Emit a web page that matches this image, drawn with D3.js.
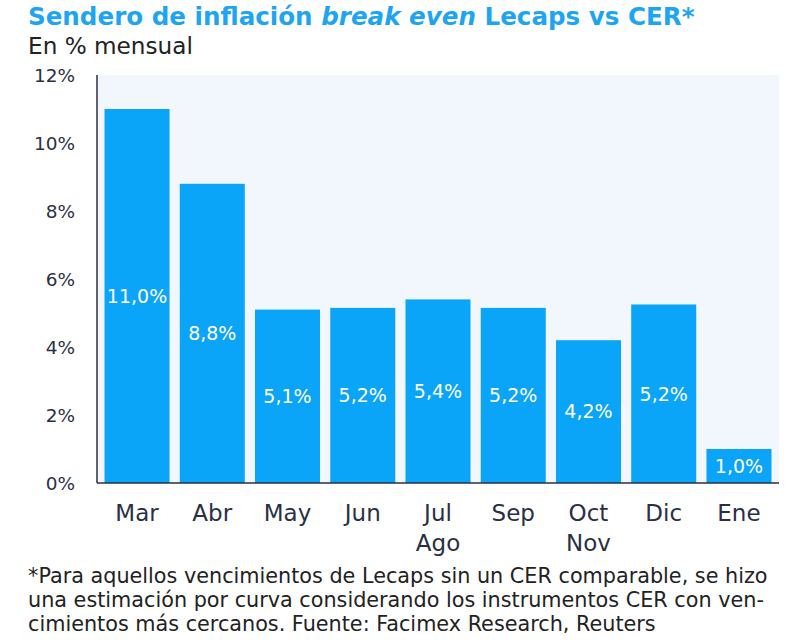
<!DOCTYPE html>
<html>
<head>
<meta charset="utf-8">
<script src="https://cdn.jsdelivr.net/npm/d3@7"></script>
<style>
  body { margin: 0; background: #fff; }
  svg { font-family: "DejaVu Sans", "Noto Sans", sans-serif; }
</style>
</head>
<body>
<svg id="chart"></svg>
<script>
// datos
const categories = ["Mar", "Abr", "May", "Jun", "Jul", "Sep", "Oct", "Dic", "Ene"];
const subLabels = ["", "", "", "", "Ago", "", "Nov", "", ""];
const values = [11.0, 8.8, 5.1, 5.15, 5.4, 5.15, 4.2, 5.25, 1.0];
const valueLabels = ["11,0%", "8,8%", "5,1%", "5,2%", "5,4%", "5,2%", "4,2%", "5,2%", "1,0%"];
const yTicks = [0, 2, 4, 6, 8, 10, 12];
const footnote = [
    "*Para aquellos vencimientos de Lecaps sin un CER comparable, se hizo",
    "una estimación por curva considerando los instrumentos CER con ven-",
    "cimientos más cercanos. Fuente: Facimex Research, Reuters"
];

const width = 800, height = 643;
const left = 28;
const blue = "#0aa4f8";
const dark = "#2b2f45";

const svg = d3.select("#chart").attr("width", width).attr("height", height);

// ajusta el tamaño de letra para que el texto mida lo mismo que en el original
function fitWidth(sel, target) {
    const w = sel.node().getComputedTextLength();
    const fs = parseFloat(sel.attr("font-size"));
    sel.attr("font-size", fs * target / w);
}

const x = d3.scaleBand()
    .domain(categories)
    .range([97, 779])
    .paddingInner(0.136)
    .paddingOuter(0.1);

const y = d3.scaleLinear().domain([0, 12]).range([483, 75]);

// título
const title = svg.append("text")
    .attr("x", left).attr("y", 25)
    .attr("fill", "#1ea5f2")
    .attr("font-size", 22)
    .attr("font-weight", 700);
title.append("tspan").text("Sendero de inflación ");
title.append("tspan").attr("font-style", "italic").text("break even");
title.append("tspan").text(" Lecaps vs CER*");
fitWidth(title, 667);

const sub = svg.append("text")
    .attr("x", left).attr("y", 54)
    .attr("fill", "#222")
    .attr("font-size", 20)
    .text("En % mensual");
fitWidth(sub, 165);

// fondo del área
svg.append("rect")
    .attr("x", x.range()[0]).attr("y", y(12))
    .attr("width", x.range()[1] - x.range()[0])
    .attr("height", y(0) - y(12))
    .attr("fill", "#f1f7fd");

// eje y (solo etiquetas)
svg.append("g")
    .selectAll("text")
    .data(yTicks)
    .enter().append("text")
    .attr("x", 75)
    .attr("y", d => y(d))
    .attr("dy", "0.36em")
    .attr("text-anchor", "end")
    .attr("fill", dark)
    .attr("font-size", 18.5)
    .text(d => d + "%");

// barras
svg.append("g")
    .selectAll("rect")
    .data(values)
    .enter().append("rect")
    .attr("x", (d, i) => x(categories[i]))
    .attr("y", d => y(d))
    .attr("width", x.bandwidth())
    .attr("height", d => y(0) - y(d))
    .attr("fill", blue);

// etiquetas de valor
svg.append("g")
    .selectAll("text")
    .data(values)
    .enter().append("text")
    .attr("x", (d, i) => x(categories[i]) + x.bandwidth() / 2)
    .attr("y", d => (y(d) + y(0)) / 2)
    .attr("dy", "0.36em")
    .attr("text-anchor", "middle")
    .attr("fill", "#fff")
    .attr("font-size", 19)
    .text((d, i) => valueLabels[i]);

// ejes
svg.append("line")
    .attr("x1", 97).attr("x2", 97)
    .attr("y1", y(12)).attr("y2", y(0))
    .attr("stroke", dark).attr("stroke-width", 1.5);
svg.append("line")
    .attr("x1", 97).attr("x2", 779)
    .attr("y1", y(0)).attr("y2", y(0))
    .attr("stroke", dark).attr("stroke-width", 1.5);

// etiquetas eje x
const xl = svg.append("g")
    .selectAll("text")
    .data(categories)
    .enter().append("text")
    .attr("x", d => x(d) + x.bandwidth() / 2)
    .attr("y", 521)
    .attr("text-anchor", "middle")
    .attr("fill", dark)
    .attr("font-size", 23);
xl.append("tspan").text(d => d);
xl.append("tspan")
    .attr("x", d => x(d) + x.bandwidth() / 2)
    .attr("dy", 30)
    .text((d, i) => subLabels[i]);

// nota al pie
const notes = svg.append("g")
    .selectAll("text")
    .data(footnote)
    .enter().append("text")
    .attr("x", left)
    .attr("y", (d, i) => 583 + i * 24)
    .attr("fill", "#222")
    .attr("font-size", 17)
    .text(d => d);
const first = d3.select(notes.nodes()[0]);
fitWidth(first, 740);
notes.attr("font-size", first.attr("font-size"));
</script>
</body>
</html>
